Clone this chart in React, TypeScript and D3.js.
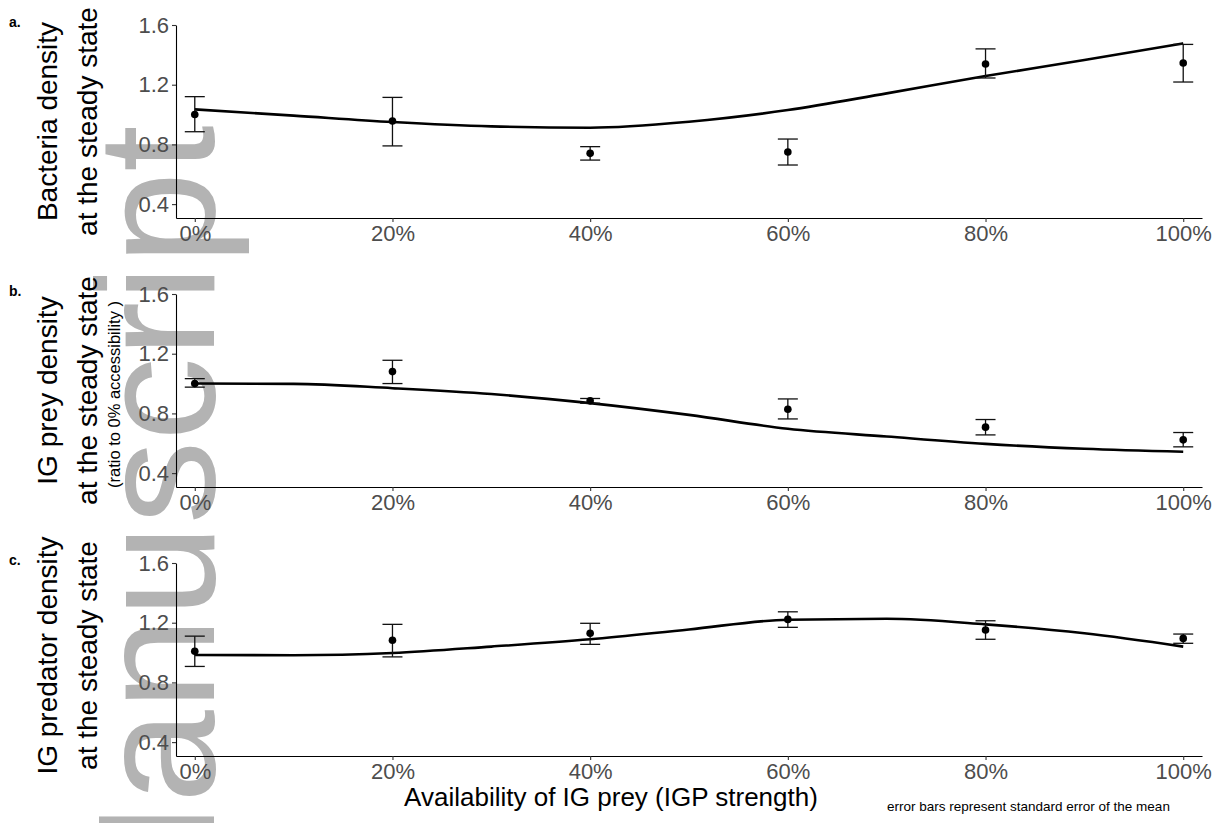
import React, { useEffect, useRef } from 'react';
import * as d3 from 'd3';

// IG prey availability levels (x) and tick labels
const levels = [0, 20, 40, 60, 80, 100];
const levelLabels = ['0%', '20%', '40%', '60%', '80%', '100%'];
const yTicks = [0.4, 0.8, 1.2, 1.6];

// a. bacteria
const bacteriaMean = [1.0, 0.957, 0.74, 0.749, 1.339, 1.345];
const bacteriaLow = [0.885, 0.79, 0.695, 0.662, 1.245, 1.218];
const bacteriaHigh = [1.12, 1.115, 0.785, 0.836, 1.44, 1.47];

// b. IG prey
const preyMean = [1.0, 1.08, 0.884, 0.828, 0.708, 0.623];
const preyLow = [0.976, 1.0, 0.868, 0.763, 0.656, 0.576];
const preyHigh = [1.033, 1.156, 0.9, 0.897, 0.759, 0.672];

// c. IG predator
const predMean = [1.009, 1.082, 1.129, 1.222, 1.151, 1.095];
const predLow = [0.907, 0.971, 1.055, 1.169, 1.089, 1.062];
const predHigh = [1.11, 1.189, 1.196, 1.273, 1.213, 1.124];

// fitted curves, read every 10%
const fitLevels = [0, 10, 20, 30, 40, 50, 60, 70, 80, 90, 100];
const bacteriaFit = [1.035, 0.993, 0.95, 0.921, 0.912, 0.952, 1.03, 1.142, 1.258, 1.365, 1.477];
const preyFit = [1.0, 0.998, 0.969, 0.93, 0.869, 0.79, 0.697, 0.645, 0.596, 0.563, 0.543];
const predFit = [0.984, 0.982, 0.997, 1.04, 1.089, 1.155, 1.22, 1.226, 1.189, 1.129, 1.04];

const panels = [
  { tag: 'a.', titles: ['Bacteria density', 'at the steady state'], note: null, mean: bacteriaMean, low: bacteriaLow, high: bacteriaHigh, fit: bacteriaFit },
  { tag: 'b.', titles: ['IG prey density', 'at the steady state'], note: '(ratio to 0% accessibility )', mean: preyMean, low: preyLow, high: preyHigh, fit: preyFit },
  { tag: 'c.', titles: ['IG predator density', 'at the steady state'], note: null, mean: predMean, low: predLow, high: predHigh, fit: predFit },
];

const FONT = '"Liberation Sans", Arial, Helvetica, sans-serif';

export default function App() {
  const ref = useRef<SVGSVGElement>(null);

  useEffect(() => {
    const width = 1224, height = 823;
    const svg = d3.select(ref.current);
    svg.selectAll('*').remove();
    svg.attr('width', width).attr('height', height).style('font-family', FONT);

    svg.append('rect').attr('width', width).attr('height', height).attr('fill', 'white');

    // watermark behind the plots
    svg.append('text')
      .attr('transform', 'translate(214,942) rotate(-90)')
      .attr('font-size', 167)
      .attr('fill', '#b3b3b3')
      .text('Manuscript');

    const x = d3.scaleLinear().domain([-1.9, 101.9]).range([176, 1202]);
    const panelH = 193;

    panels.forEach((p, i) => {
      const top = 25 + i * 269;
      const bottom = top + panelH;
      const y = d3.scaleLinear().domain([0.307, 1.6]).range([bottom, top]);
      const g = svg.append('g');

      // y axis
      const ya = g.append('g').attr('transform', 'translate(176,0)')
        .call(d3.axisLeft(y).tickValues(yTicks).tickFormat(d3.format('.1f')).tickSize(4).tickSizeOuter(0).tickPadding(3));
      // x axis
      const xa = g.append('g').attr('transform', `translate(0,${bottom})`)
        .call(d3.axisBottom(x).tickValues(levels).tickFormat((d, k) => levelLabels[k]).tickSize(4).tickSizeOuter(0).tickPadding(3.5));
      [ya, xa].forEach(a => {
        a.select('.domain').attr('stroke', '#000').attr('stroke-width', 1.1);
        a.selectAll('.tick line').attr('stroke', '#333').attr('stroke-width', 1.1);
        a.selectAll('.tick text').attr('fill', '#4d4d4d').attr('font-size', 22).attr('font-family', FONT);
      });

      // fitted curve
      const line = d3.line<number>()
        .x((d, k) => x(fitLevels[k]))
        .y(d => y(d))
        .curve(d3.curveMonotoneX);
      g.append('path').datum(p.fit).attr('d', line)
        .attr('fill', 'none').attr('stroke', '#000').attr('stroke-width', 2.6);

      // error bars
      const eb = g.selectAll('.eb').data(levels).enter().append('g');
      eb.append('line').attr('x1', d => x(d)).attr('x2', d => x(d))
        .attr('y1', (d, k) => y(p.low[k])).attr('y2', (d, k) => y(p.high[k]));
      eb.append('line').attr('x1', d => x(d) - 10).attr('x2', d => x(d) + 10)
        .attr('y1', (d, k) => y(p.low[k])).attr('y2', (d, k) => y(p.low[k]));
      eb.append('line').attr('x1', d => x(d) - 10).attr('x2', d => x(d) + 10)
        .attr('y1', (d, k) => y(p.high[k])).attr('y2', (d, k) => y(p.high[k]));
      eb.selectAll('line').attr('stroke', '#111').attr('stroke-width', 1.3);

      // means
      g.selectAll('.pt').data(levels).enter().append('circle')
        .attr('cx', d => x(d)).attr('cy', (d, k) => y(p.mean[k])).attr('r', 3.8).attr('fill', '#000');

      // y titles
      const cy = (top + bottom) / 2 - (i === 2 ? 4 : 0);
      [57, 97].forEach((bx, k) => {
        g.append('text').attr('transform', `translate(${bx},${cy}) rotate(-90)`)
          .attr('text-anchor', 'middle').attr('font-size', 28).attr('fill', '#000')
          .text(p.titles[k]);
      });
      if (p.note) {
        g.append('text').attr('transform', `translate(120,${cy + 4}) rotate(-90)`)
          .attr('text-anchor', 'middle').attr('font-size', 16.5).attr('fill', '#000')
          .text(p.note);
      }

      // panel tag
      g.append('text').attr('x', 9).attr('y', top + 2).attr('font-size', 14)
        .attr('font-weight', 'bold').attr('fill', '#000').text(p.tag);
    });

    svg.append('text').attr('x', 611).attr('y', 806).attr('text-anchor', 'middle')
      .attr('font-size', 26).attr('fill', '#000').text('Availability of IG prey (IGP strength)');
    svg.append('text').attr('x', 887).attr('y', 811)
      .attr('font-size', 13.5).attr('fill', '#000').text('error bars represent standard error of the mean');
  }, []);

  return (
    <div>
      <svg ref={ref} style={{ position: 'absolute', left: 0, top: 0 }} />
    </div>
  );
}
